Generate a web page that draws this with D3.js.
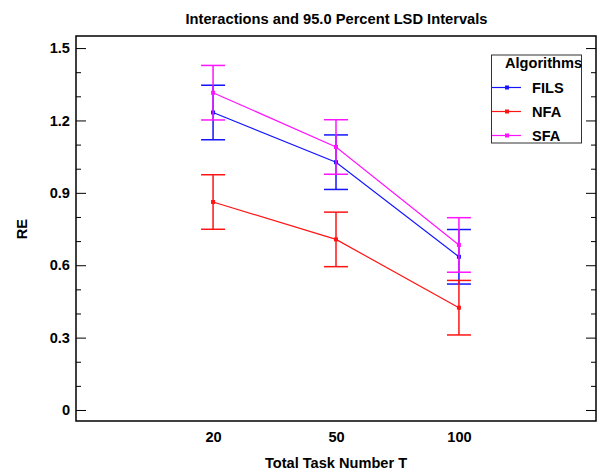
<!DOCTYPE html>
<html>
<head>
<meta charset="utf-8">
<script src="https://cdn.jsdelivr.net/npm/d3@7"></script>
<style>
  html, body { margin: 0; padding: 0; background: #fff; }
  svg { display: block; font-family: "Liberation Sans", Arial, sans-serif; }
</style>
</head>
<body>
<svg id="chart" width="601" height="473"></svg>
<script>
// Task counts on the x axis
const categories = ["20", "50", "100"];
// Series names and colours
const seriesNames = ["FILS", "NFA", "SFA"];
const seriesColors = ["#1414ff", "#ff1414", "#ff14ff"];
// Mean RE per series, one value per task count
const filsMeans = [1.233, 1.027, 0.635];
const nfaMeans = [0.862, 0.707, 0.424];
const sfaMeans = [1.315, 1.090, 0.684];
// Half-width of the 95% LSD interval
const lsdHalfWidth = 0.113;
// Y axis ticks
const yTicks = [0, 0.3, 0.6, 0.9, 1.2, 1.5];
const yMinorTicks = [0.1, 0.2, 0.4, 0.5, 0.7, 0.8, 1.0, 1.1, 1.3, 1.4];

const seriesMeans = [filsMeans, nfaMeans, sfaMeans];
const series = seriesNames.map((name, i) => ({
  name, color: seriesColors[i],
  values: seriesMeans[i].map((v, j) => ({ i: j, v }))
}));

const svg = d3.select("#chart");
const frame = { left: 76, right: 596, top: 36, bottom: 421 };
const fontSize = 14.6;

const x = d3.scaleLinear().domain([-1.115, 3.115]).range([frame.left, frame.right]);
const y = d3.scaleLinear().domain([-0.0456, 1.55]).range([frame.bottom, frame.top]);

// Title
svg.append("text")
  .attr("x", 336.5).attr("y", 24)
  .attr("text-anchor", "middle")
  .attr("font-size", 14.7).attr("font-weight", "bold")
  .text("Interactions and 95.0 Percent LSD Intervals");

// Axes: major ticks on left and right, minor ticks between
const gLeft = svg.append("g").attr("transform", `translate(${frame.left},0)`)
  .call(d3.axisRight(y).tickValues(yTicks).tickSize(10).tickFormat(""));
const gLeftMinor = svg.append("g").attr("transform", `translate(${frame.left},0)`)
  .call(d3.axisRight(y).tickValues(yMinorTicks).tickSize(5).tickFormat(""));
const gRight = svg.append("g").attr("transform", `translate(${frame.right},0)`)
  .call(d3.axisLeft(y).tickValues(yTicks).tickSize(10).tickFormat(""));
const gRightMinor = svg.append("g").attr("transform", `translate(${frame.right},0)`)
  .call(d3.axisLeft(y).tickValues(yMinorTicks).tickSize(5).tickFormat(""));
[gLeft, gLeftMinor, gRight, gRightMinor].forEach(g => {
  g.select(".domain").remove();
  g.selectAll(".tick line").attr("stroke", "#000").attr("stroke-width", 1);
});

// Y tick labels
const gYLabels = svg.append("g").attr("transform", `translate(${frame.left},0)`)
  .call(d3.axisLeft(y).tickValues(yTicks).tickSize(0).tickPadding(6)
    .tickFormat(d => d === 0 ? "0" : d3.format(".1f")(d)));
gYLabels.select(".domain").remove();
gYLabels.selectAll("text")
  .attr("font-size", fontSize).attr("font-weight", "bold")
  .attr("font-family", "Liberation Sans, Arial, sans-serif").attr("fill", "#000");

// X tick labels
const gX = svg.append("g").attr("transform", `translate(0,${frame.bottom})`)
  .call(d3.axisBottom(x).tickValues([0, 1, 2]).tickSize(0).tickPadding(11)
    .tickFormat(i => categories[i]));
gX.select(".domain").remove();
gX.selectAll("text")
  .attr("font-size", fontSize).attr("font-weight", "bold")
  .attr("font-family", "Liberation Sans, Arial, sans-serif").attr("fill", "#000");

// Axis titles
svg.append("text")
  .attr("x", 336).attr("y", 468)
  .attr("text-anchor", "middle")
  .attr("font-size", fontSize).attr("font-weight", "bold")
  .text("Total Task Number T");
svg.append("text")
  .attr("transform", `translate(27,${y(0.75)}) rotate(-90)`)
  .attr("text-anchor", "middle")
  .attr("font-size", fontSize).attr("font-weight", "bold")
  .text("RE");

// Plot frame
svg.append("rect")
  .attr("x", frame.left).attr("y", frame.top)
  .attr("width", frame.right - frame.left).attr("height", frame.bottom - frame.top)
  .attr("fill", "none").attr("stroke", "#000").attr("stroke-width", 1.5);

// Series: interval bars, connecting lines and point markers
const line = d3.line().x(d => x(d.i)).y(d => y(d.v));
const capHalf = 12;
series.forEach(s => {
  const g = svg.append("g");
  s.values.forEach(d => {
    const cx = x(d.i), y1 = y(d.v + lsdHalfWidth), y2 = y(d.v - lsdHalfWidth);
    g.append("line").attr("x1", cx).attr("x2", cx).attr("y1", y1).attr("y2", y2)
      .attr("stroke", s.color).attr("stroke-width", 1.5);
    [y1, y2].forEach(yy => g.append("line")
      .attr("x1", cx - capHalf).attr("x2", cx + capHalf).attr("y1", yy).attr("y2", yy)
      .attr("stroke", s.color).attr("stroke-width", 1.5));
  });
  g.append("path").datum(s.values).attr("d", line)
    .attr("fill", "none").attr("stroke", s.color).attr("stroke-width", 1.2);
  g.selectAll("rect.pt").data(s.values).join("rect").attr("class", "pt")
    .attr("x", d => x(d.i) - 2).attr("y", d => y(d.v) - 2)
    .attr("width", 4).attr("height", 4).attr("fill", s.color);
});

// Legend
const legend = svg.append("g");
legend.append("rect")
  .attr("x", 491.5).attr("y", 55).attr("width", 90).attr("height", 88)
  .attr("fill", "#fff").attr("stroke", "#333").attr("stroke-width", 1);
legend.append("text")
  .attr("x", 505).attr("y", 68)
  .attr("font-size", fontSize).attr("font-weight", "bold")
  .text("Algorithms");
series.forEach((s, k) => {
  const ly = 87.5 + k * 24;
  legend.append("line").attr("x1", 492).attr("x2", 521).attr("y1", ly).attr("y2", ly)
    .attr("stroke", s.color).attr("stroke-width", 1.2);
  legend.append("rect").attr("x", 505).attr("y", ly - 2).attr("width", 4).attr("height", 4)
    .attr("fill", s.color);
  legend.append("text").attr("x", 532).attr("y", ly + 5)
    .attr("font-size", fontSize).attr("font-weight", "bold")
    .text(s.name);
});
</script>
</body>
</html>
